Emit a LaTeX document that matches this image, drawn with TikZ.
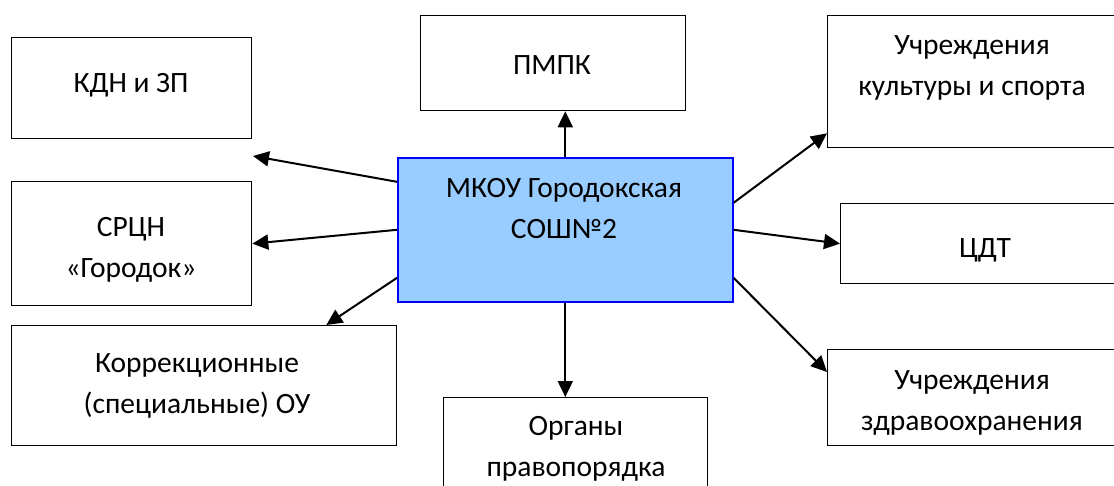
\documentclass[tikz,border=0pt]{standalone}
\usepackage{fontspec}
\setmainfont{Carlito}
\usetikzlibrary{arrows.meta}
\definecolor{mkoufill}{HTML}{99CCFF}
\definecolor{mkouline}{HTML}{0000FF}

\begin{document}
\begin{tikzpicture}[x=1pt,y=-1pt,
  box/.style={draw=black,line width=1.3pt,inner sep=0pt,anchor=north west},
  mainbox/.style={draw=mkouline,fill=mkoufill,line width=1.6pt,inner sep=0pt,anchor=north west},
  txt/.style={inner sep=0pt,align=center,font=\fontsize{29.5}{41}\selectfont},
  link/.style={line width=2pt,-{Triangle[length=16pt,width=15pt]}}]
\useasboundingbox (0,0) rectangle (1114,486);
\fill [white] (0,0) rectangle (1114,486);
% boxes
\node [box,minimum width=240pt,minimum height=101pt] (kdn) at (11,37) {};
\node [box,minimum width=265pt,minimum height=95pt] (pmpk) at (420,15) {};
\node [box,minimum width=293pt,minimum height=132pt] (kult) at (827,15) {};
\node [mainbox,minimum width=335pt,minimum height=144pt] (mkou) at (397,157) {};
\node [box,minimum width=240pt,minimum height=124pt] (srcn) at (11,181) {};
\node [box,minimum width=280pt,minimum height=80pt] (cdt) at (840,203) {};
\node [box,minimum width=385pt,minimum height=120pt] (korr) at (11,325) {};
\node [box,minimum width=264pt,minimum height=95pt] (organy) at (443,397) {};
\node [box,minimum width=293pt,minimum height=96pt] (zdrav) at (827,349) {};
% texts
\node [txt] (kdn-t) at (131,85) {КДН и ЗП};
\node [txt] (pmpk-t) at (552,65) {ПМПК};
\node [txt] (kult-t) at (972,68) {Учреждения\\культуры и спорта};
\node [txt] (mkou-t) at (564,209) {МКОУ Городокская\\СОШ№2};
\node [txt] (srcn-t) at (131,250) {СРЦН\\«Городок»};
\node [txt] (cdt-t) at (985,250) {ЦДТ};
\node [txt] (korr-t) at (197,386) {Коррекционные\\(специальные) ОУ};
\node [txt] (organy-t) at (576,449) {Органы\\правопорядка};
\node [txt] (zdrav-t) at (972,403) {Учреждения\\здравоохранения};
% arrows
\coordinate (kdn-end) at (253,156);
\draw [link] ([yshift=48pt]mkou.west) -- (kdn-end);
\draw [link] (mkou.west) -- (srcn.east);
\draw [link] ([yshift=-48pt]mkou.west) -- ([xshift=-71pt]korr.north east);
\draw [link] (mkou.north) -- (mkou.north |- pmpk.south);
\draw [link] (mkou.south) -- (mkou.south |- organy.north);
\draw [link] ([yshift=27pt]mkou.east) -- ([yshift=15pt]kult.south west);
\draw [link] (mkou.east) -- (cdt.west);
\draw [link] ([yshift=-48pt]mkou.east) -- ([yshift=-23pt]zdrav.north west);
\end{tikzpicture}
\end{document}
